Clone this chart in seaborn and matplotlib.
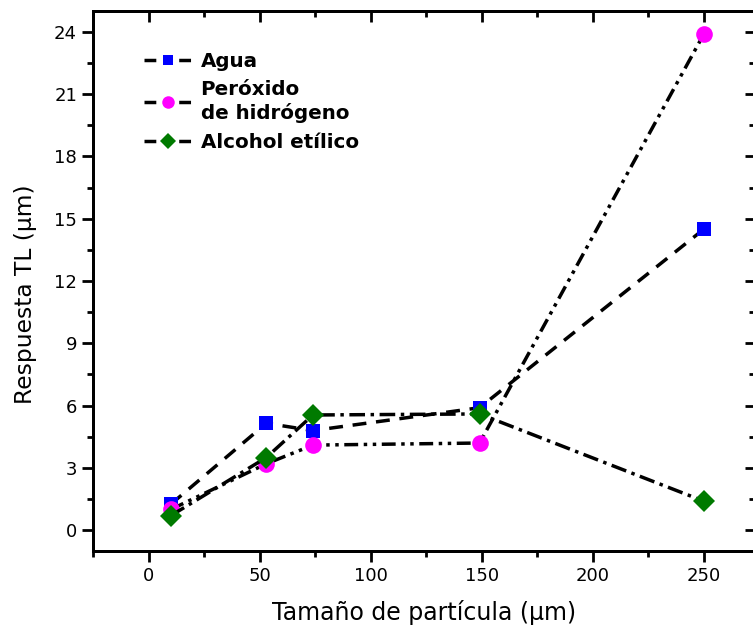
import matplotlib
matplotlib.use("Agg")
import matplotlib.pyplot as plt
import seaborn as sns
import pandas as pd
from matplotlib.lines import Line2D
from matplotlib.ticker import MultipleLocator

sns.set_style("ticks")
plt.rcParams['font.family'] = ['DejaVu Sans']
plt.rcParams['text.color'] = 'black'
plt.rcParams['axes.labelcolor'] = 'black'
plt.rcParams['xtick.color'] = 'black'
plt.rcParams['ytick.color'] = 'black'

sizes = [10, 53, 74, 149, 250]
agua = [1.25, 5.15, 4.8, 5.9, 14.5]
peroxido = [1.0, 3.2, 4.1, 4.2, 23.9]
alcohol = [0.7, 3.5, 5.55, 5.6, 1.4]

series_names = ["Agua", "Peróxido\nde hidrógeno", "Alcohol etílico"]
series_values = [agua, peroxido, alcohol]
x_ticks = [0, 50, 100, 150, 200, 250]
y_ticks = [0, 3, 6, 9, 12, 15, 18, 21, 24]

colors = ["#0000ff", "#ff00ff", "#007a00"]
markers = ["s", "o", "D"]
msizes = [10, 12, 11]
styles = [(0, (4, 2.8)), (0, (4, 1.6, 1, 1.6, 1, 1.6)), (0, (4.5, 1.6, 1, 1.6))]

fig = plt.figure(figsize=(7.53, 6.33), dpi=100)
rect = [0.1235, 0.1295, 0.8792, 0.8531]
ax = fig.add_axes(rect)

for name, vals, c, m, ms, ls in zip(series_names, series_values, colors, markers, msizes, styles):
    df = pd.DataFrame({"x": sizes, "y": vals})
    sns.lineplot(data=df, x="x", y="y", ax=ax, color="black", linewidth=2.5,
                 linestyle=ls, marker=m, markersize=ms, markerfacecolor=c,
                 markeredgecolor=c, markeredgewidth=0, legend=False)

xlim = (-25, 273)
ylim = (-1, 25)
ax.set_xlim(*xlim)
ax.set_ylim(*ylim)
ax.set_xticks(x_ticks)
ax.set_yticks(y_ticks)
ax.xaxis.set_minor_locator(MultipleLocator(25))
ax.yaxis.set_minor_locator(MultipleLocator(1.5))
ax.tick_params(axis='both', which='major', labelsize=13, width=2, length=8, direction='out',
               top=False, right=False)
ax.tick_params(axis='both', which='minor', width=2, length=4.5, direction='out',
               top=False, right=False)

# top & right inward ticks
axt = ax.twiny()
axt.set_xlim(*xlim)
axt.set_xticks(x_ticks)
axt.xaxis.set_minor_locator(MultipleLocator(25))
axt.tick_params(axis='x', which='major', direction='in', length=8, width=2, labeltop=False)
axt.tick_params(axis='x', which='minor', direction='in', length=4.5, width=2)
axr = ax.twinx()
axr.set_ylim(*ylim)
axr.set_yticks(y_ticks)
axr.yaxis.set_minor_locator(MultipleLocator(1.5))
axr.tick_params(axis='y', which='major', direction='in', length=7, width=2, labelright=False)
axr.tick_params(axis='y', which='minor', direction='in', length=4, width=2)

for a in (ax, axt, axr):
    for s in a.spines.values():
        s.set_linewidth(2)
        s.set_color('black')

ax.set_xlabel("Tamaño de partícula (µm)", fontsize=17, labelpad=11)
ax.set_ylabel("Respuesta TL (µm)", fontsize=16.8)
ax.yaxis.set_label_coords(-0.085, 0.476)

handles = [Line2D([0], [0], color='black', linewidth=2.5, linestyle=(0, (3.4, 6.6)),
                  marker=m, markersize=ms * 0.75, markerfacecolor=c, markeredgecolor=c, markeredgewidth=0)
           for c, m, ms in zip(colors, markers, msizes)]
leg = axr.legend(handles, series_names, loc='upper left', bbox_to_anchor=(0.05, 0.957),
                 frameon=False, handlelength=2.4, handletextpad=0.45, labelspacing=0.47,
                 prop={'weight': 'bold', 'size': 14.3})
for t in leg.get_texts():
    t.set_linespacing(1.25)

fig.savefig("out.png", dpi=100)
